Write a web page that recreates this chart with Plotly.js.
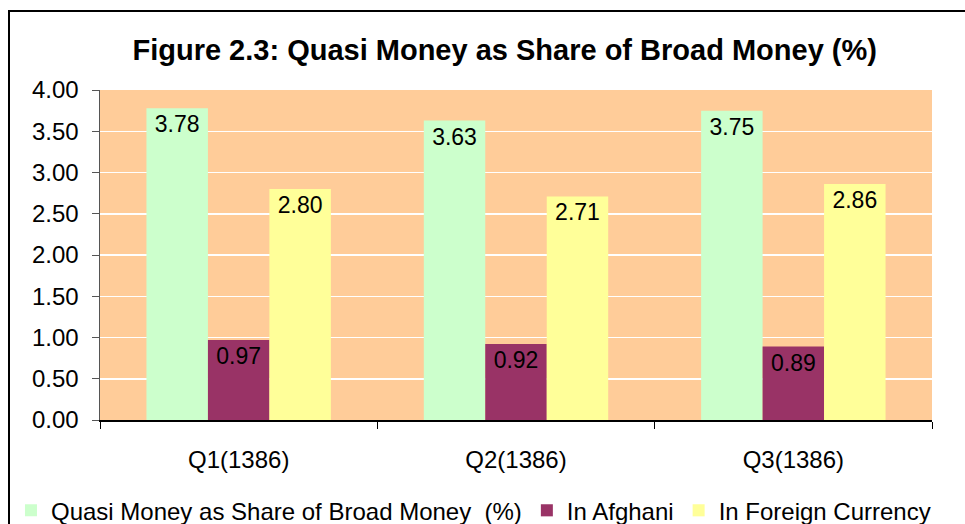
<!DOCTYPE html>
<html><head><meta charset="utf-8">
<script src="https://cdn.plot.ly/plotly-3.0.1.min.js"></script>
<style>
html,body{margin:0;padding:0;background:#fff;}
#wrap{position:relative;width:965px;height:524px;overflow:hidden;}
#chart{position:absolute;left:0;top:0;width:965px;height:524px;}
#frame{position:absolute;left:8px;top:10px;width:1000px;height:600px;border-left:2px solid #000;border-top:2px solid #000;pointer-events:none;}
</style></head>
<body><div id="wrap"><div id="chart"></div><div id="frame"></div></div>
<script>
const categories = ["Q1(1386)", "Q2(1386)", "Q3(1386)"];
const quasiShare = [3.78, 3.63, 3.75];
const inAfghani = [0.97, 0.92, 0.89];
const inForeign = [2.80, 2.71, 2.86];
const seriesNames = ["Quasi Money as Share of Broad Money  (%)", "In Afghani", "In Foreign Currency"];
const yTicks = [0, 0.5, 1, 1.5, 2, 2.5, 3, 3.5, 4];

const colors = ["#CCFFCC", "#993366", "#FFFF99"];
const font = "Liberation Sans, Arial, sans-serif";
function mk(vals, i){
  return {type:"bar", x:categories, y:vals, name:seriesNames[i],
    marker:{color:colors[i], line:{width:0}},
    text:vals.map(v=>v.toFixed(2)), textposition:"inside", insidetextanchor:"end",
    textangle:0, constraintext:"none",
    textfont:{family:font, size:23, color:"#000"}, hoverinfo:"skip"};
}
const data=[mk(quasiShare,0), mk(inAfghani,1), mk(inForeign,2)];
const layout={
  width:965, height:524,
  margin:{l:100, r:33, t:90, b:104, autoexpand:false},
  paper_bgcolor:"#fff", plot_bgcolor:"#FFCC99",
  barmode:"group", bargap:0.335, bargroupgap:0,
  title:{text:"<b>Figure 2.3: Quasi Money as Share of Broad Money (%)</b>", font:{family:font, size:29, color:"#000"}, x:0.523, xanchor:"center", y:0.905, yanchor:"middle"},
  xaxis:{type:"category", tickson:"boundaries", ticks:"outside", ticklen:7, tickcolor:"#000",
    showline:true, linecolor:"#000", linewidth:2, showgrid:false, ticklabelstandoff:17,
    tickfont:{family:font, size:24, color:"#000"}, fixedrange:true},
  yaxis:{range:[0,4], tickvals:yTicks, ticktext:yTicks.map(v=>v.toFixed(2)),
    ticks:"outside", ticklen:7, tickcolor:"#555", showline:true, linecolor:"#555", linewidth:1.5,
    gridcolor:"#fff", gridwidth:1.5, zeroline:false, ticklabelstandoff:8,
    tickfont:{family:font, size:24, color:"#000"}, fixedrange:true},
  showlegend:true,
  legend:{orientation:"h", x:-0.107, xanchor:"left", y:-0.275, yanchor:"middle",
    font:{family:font, size:24, color:"#000"}, bgcolor:"rgba(0,0,0,0)", itemwidth:30, traceorder:"normal", tracegroupgap:0}
};
Plotly.newPlot("chart", data, layout, {displayModeBar:false, staticPlot:true});
</script></body></html>
